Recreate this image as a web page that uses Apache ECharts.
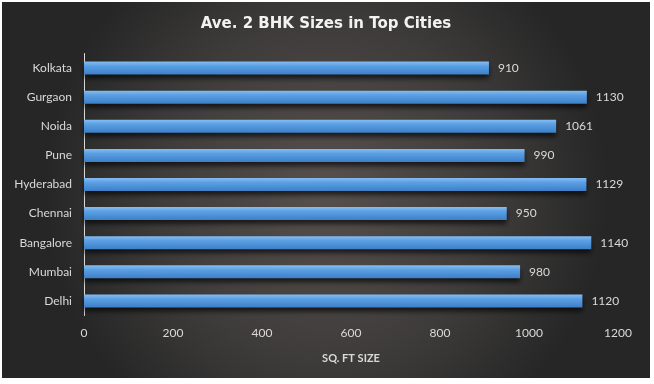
<!DOCTYPE html>
<html>
<head>
<meta charset="utf-8">
<script src="https://cdn.jsdelivr.net/npm/echarts@6/dist/echarts.min.js"></script>
<style>
  html, body { margin: 0; padding: 0; background: #ffffff; }
  #chart { position: absolute; left: 2px; top: 2px; width: 648px; height: 376px; }
</style>
</head>
<body>
<div id="chart"></div>
<script>
const cities = ['Delhi', 'Mumbai', 'Bangalore', 'Chennai', 'Hyderabad', 'Pune', 'Noida', 'Gurgaon', 'Kolkata'];
const sizes = [1120, 980, 1140, 950, 1129, 990, 1061, 1130, 910];
const xTicks = { min: 0, max: 1200, interval: 200 };

const chart = echarts.init(document.getElementById('chart'), null, { renderer: 'canvas' });
const labelColor = '#d9d9d9';
const fontFam = 'Lato, "Open Sans", sans-serif';
chart.setOption({
  backgroundColor: {
    type: 'radial', x: 0.5, y: 0.5, r: 0.75,
    colorStops: [
      { offset: 0, color: '#57504d' },
      { offset: 0.6, color: '#3e3c3b' },
      { offset: 1, color: '#262626' }
    ]
  },
  title: {
    text: 'Ave. 2 BHK Sizes in Top Cities',
    left: 'center',
    top: 10,
    textStyle: { color: '#f2f2f2', fontSize: 15, fontWeight: 'bold', fontFamily: '"DejaVu Sans", sans-serif' }
  },
  grid: { left: 82, right: 32, top: 51.5, bottom: 62.5, containLabel: false },
  xAxis: {
    type: 'value',
    min: xTicks.min, max: xTicks.max, interval: xTicks.interval,
    name: 'SQ. FT SIZE',
    nameLocation: 'middle',
    nameGap: 37,
    nameTextStyle: { color: labelColor, fontSize: 11, fontWeight: 'bold', fontFamily: fontFam },
    axisLine: { show: false },
    axisTick: { show: false },
    splitLine: { show: false },
    axisLabel: { color: labelColor, fontSize: 12, margin: 12, fontFamily: fontFam, formatter: v => String(v) }
  },
  yAxis: {
    type: 'category',
    data: cities,
    axisLine: { show: true, lineStyle: { color: '#d9d9d9', width: 1 } },
    axisTick: { show: false },
    axisLabel: { color: labelColor, fontSize: 12, margin: 12, fontFamily: fontFam }
  },
  series: [{
    type: 'bar',
    data: sizes,
    barWidth: 13,
    itemStyle: {
      color: {
        type: 'linear', x: 0, y: 0, x2: 0, y2: 1,
        colorStops: [
          { offset: 0, color: '#86bdf0' },
          { offset: 0.35, color: '#5a9fe3' },
          { offset: 1, color: '#3d7fc8' }
        ]
      },
      shadowColor: 'rgba(0,0,0,0.65)',
      shadowBlur: 5,
      shadowOffsetY: 4
    },
    label: {
      show: true,
      position: 'right',
      distance: 9,
      color: labelColor,
      fontSize: 12,
      fontFamily: fontFam
    }
  }]
});
</script>
</body>
</html>
